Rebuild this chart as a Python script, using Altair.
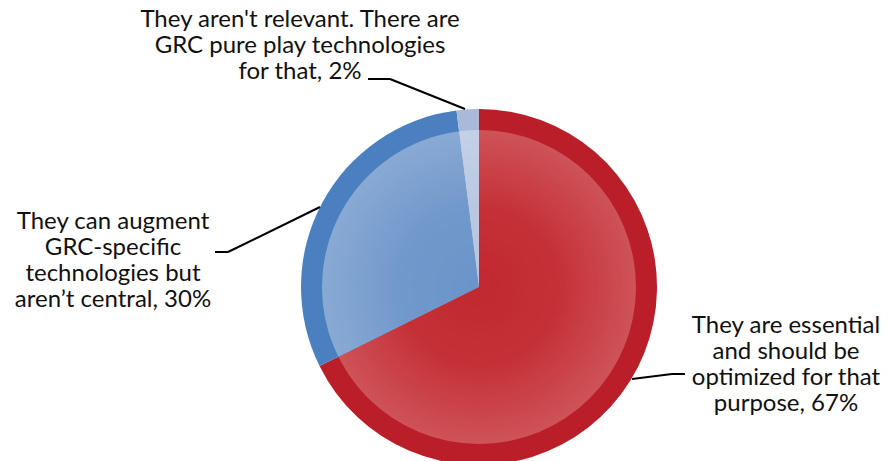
import altair as alt
import pandas as pd

# ---- data ----
categories = [
    "They are essential and should be optimized for that purpose",
    "They can augment GRC-specific technologies but aren't central",
    "They aren't relevant. There are GRC pure play technologies for that",
]
values = [67, 30, 2]
order = [1, 2, 3]
label_texts = [
    ["They are essential", "and should be", "optimized for that", "purpose, 67%"],
    ["They can augment", "GRC-specific", "technologies but", "aren\u2019t central, 30%"],
    ["They aren't relevant. There are", "GRC pure play technologies", "for that, 2%"],
]

# ---- styles ----
ring_colors = ["#BA1F29", "#4A80C0", "#A8B9DA"]
inner_colors = ["#C2282F", "#6B94C9", "#B6C5E1"]
FONT = "Lato"
W, H = 874, 453
M = 8  # page margin


def px(x):
    return x - M


CX, CY = px(479), px(287)
R_OUT, R_IN = 178, 157

df = pd.DataFrame({"cat": categories, "value": values, "order": order})
total = sum(values)

base = alt.Chart(df).transform_window(
    end="sum(value)", sort=[alt.SortField("order")]
).transform_calculate(start="datum.end - datum.value")

theta = alt.Theta("start:Q", scale=alt.Scale(domain=[0, total]))
theta2 = alt.Theta2("end:Q")

ring = base.mark_arc(outerRadius=R_OUT, innerRadius=0, strokeWidth=0).encode(
    theta=theta, theta2=theta2,
    x=alt.value(CX), y=alt.value(CY),
    color=alt.Color("cat:N", scale=alt.Scale(domain=categories, range=ring_colors), legend=None),
)
inner = base.mark_arc(outerRadius=R_IN, innerRadius=0, strokeWidth=0).encode(
    theta=theta, theta2=theta2,
    x=alt.value(CX), y=alt.value(CY),
    fill=alt.Fill("cat:N", scale=alt.Scale(domain=categories, range=inner_colors), legend=None),
)

glow = alt.Chart(pd.DataFrame({"a": [0]})).mark_arc(
    outerRadius=R_IN, innerRadius=0, strokeWidth=0,
    fill=alt.RadialGradient(
        gradient="radial", x1=0.5, y1=0.5, r1=0, x2=0.5, y2=0.5, r2=0.5,
        stops=[
            alt.GradientStop(offset=0, color="rgba(255,255,255,0)"),
            alt.GradientStop(offset=0.5, color="rgba(255,255,255,0.04)"),
            alt.GradientStop(offset=1, color="rgba(255,255,255,0.2)"),
        ],
    ),
).encode(theta=alt.value(0), theta2=alt.value(6.2832), x=alt.value(CX), y=alt.value(CY))

# ---- labels (layout): x = centre, y = first line ----
label_pos = [(786, 326), (113, 222), (300, 20)]
layers = [ring, inner, glow]
for lines, (lx, ly) in zip(label_texts, label_pos):
    layers.append(
        alt.Chart(pd.DataFrame({"a": [0]})).mark_text(
            text=lines, font=FONT, fontSize=24, lineHeight=26,
            align="center", baseline="middle", color="#111111",
        ).encode(x=alt.value(px(lx)), y=alt.value(px(ly)))
    )

# leader line segments in page coords
segments = [
    (632, 379, 672, 374), (672, 374, 685, 374),
    (215, 252, 228, 252), (228, 252, 320, 207),
    (368, 79, 390, 79), (390, 79, 465, 109),
]
for x1, y1, x2, y2 in segments:
    layers.append(
        alt.Chart(pd.DataFrame({"a": [0]})).mark_rule(color="#000000", strokeWidth=2).encode(
            x=alt.value(px(x1)), y=alt.value(px(y1)), x2=alt.value(px(x2)), y2=alt.value(px(y2))
        )
    )

chart = alt.layer(*layers).properties(
    width=W, height=H, padding=0, autosize=alt.AutoSizeParams(type="none")
).configure_view(stroke=None)

chart.save("out.html", embed_options={"renderer": "svg", "actions": False})
